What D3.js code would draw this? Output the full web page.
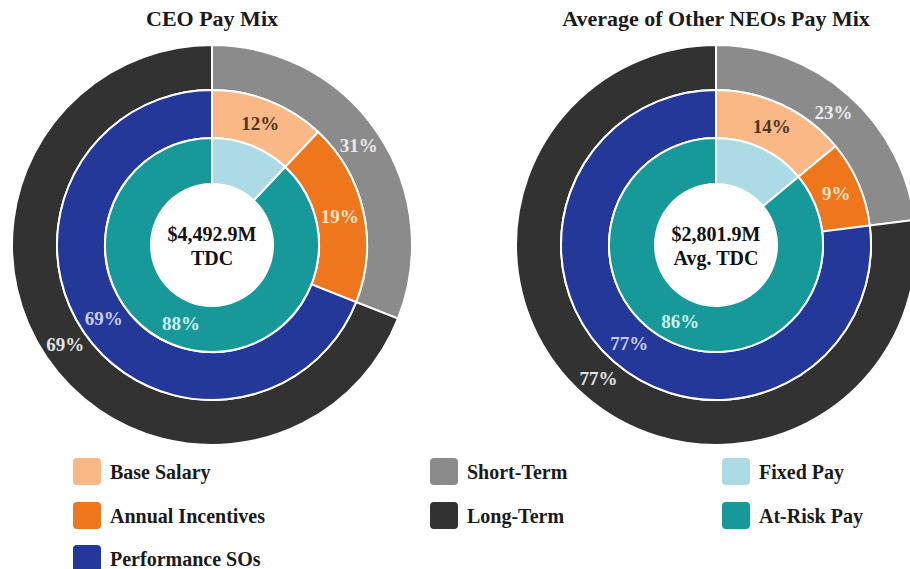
<!DOCTYPE html>
<html>
<head>
<meta charset="utf-8">
<script src="https://cdn.jsdelivr.net/npm/d3@7"></script>
<style>
  body { margin: 0; background: #fff; }
  svg text { font-family: "Liberation Serif", "DejaVu Serif", serif; font-weight: bold; }
</style>
</head>
<body>
<svg id="chart" width="910" height="569"></svg>
<script>
// Chart values.
var chartTitles = ["CEO Pay Mix", "Average of Other NEOs Pay Mix"];
var centerAmounts = ["$4,492.9M", "$2,801.9M"];
var centerCaptions = ["TDC", "Avg. TDC"];

var termCategories = ["Short-Term", "Long-Term"];
var termValues = [[31, 69], [23, 77]];

var componentCategories = ["Base Salary", "Annual Incentives", "Performance SOs"];
var componentValues = [[12, 19, 69], [14, 9, 77]];

var riskCategories = ["Fixed Pay", "At-Risk Pay"];
var riskValues = [[12, 88], [14, 86]];

// Colours per category and colour of the percent label drawn on it.
var fillColor = {
    "Base Salary": "#f9b886",
    "Annual Incentives": "#ee771d",
    "Performance SOs": "#24389a",
    "Short-Term": "#8b8b8b",
    "Long-Term": "#323232",
    "Fixed Pay": "#acdbe6",
    "At-Risk Pay": "#17999a"
};
var labelColor = {
    "Base Salary": "#4e3520",
    "Annual Incentives": "#fde2c4",
    "Performance SOs": "#c9cef3",
    "Short-Term": "#ececec",
    "Long-Term": "#e4e4e4",
    "Fixed Pay": null,            // no label on this slice
    "At-Risk Pay": "#cdf2ee"
};

var svg = d3.select("#chart");
var centers = [[212, 245], [716, 245]];

// Rings: inner radius, outer radius, which data.
var rings = [
    { name: "risk", inner: 61, outer: 107, categories: riskCategories, values: riskValues },
    { name: "component", inner: 107, outer: 155, categories: componentCategories, values: componentValues },
    { name: "term", inner: 155, outer: 200, categories: termCategories, values: termValues }
];

var pie = d3.pie()
    .sort(null)
    .value(function (d) { return d.value; });

chartTitles.forEach(function (title, i) {
    var group = svg.append("g")
        .attr("transform", "translate(" + centers[i][0] + "," + centers[i][1] + ")");

    // Draw rings from the outside in, so white strokes sit cleanly.
    rings.slice().reverse().forEach(function (ring) {
        var data = ring.categories.map(function (c, k) {
            return { category: c, value: ring.values[i][k] };
        });
        var arc = d3.arc()
            .innerRadius(ring.inner)
            .outerRadius(ring.outer);

        group.append("g")
            .attr("class", "ring-" + ring.name)
            .selectAll("path")
            .data(pie(data))
            .enter()
            .append("path")
            .attr("d", arc)
            .attr("fill", function (d) { return fillColor[d.data.category]; })
            .attr("stroke", "#fff")
            .attr("stroke-width", 2);

        group.append("g")
            .selectAll("text")
            .data(pie(data).filter(function (d) { return labelColor[d.data.category]; }))
            .enter()
            .append("text")
            .attr("transform", function (d) {
                var c = arc.centroid(d);
                return "translate(" + c[0] + "," + c[1] + ")";
            })
            .attr("text-anchor", "middle")
            .attr("dy", "0.35em")
            .attr("font-size", 19)
            .attr("fill", function (d) { return labelColor[d.data.category]; })
            .text(function (d) { return d.data.value + "%"; });
    });

    // Centre text.
    group.append("text")
        .attr("text-anchor", "middle")
        .attr("y", -4)
        .attr("font-size", 20)
        .attr("fill", "#111")
        .text(centerAmounts[i]);
    group.append("text")
        .attr("text-anchor", "middle")
        .attr("y", 20)
        .attr("font-size", 20)
        .attr("fill", "#111")
        .text(centerCaptions[i]);

    // Title.
    svg.append("text")
        .attr("x", centers[i][0])
        .attr("y", 26)
        .attr("text-anchor", "middle")
        .attr("font-size", 22)
        .attr("fill", "#1a1a1a")
        .text(title);
});

// Legend in three columns.
var legendColumns = [componentCategories, termCategories, riskCategories];
var legendX = [73, 430, 722];
var legendY = [458, 502, 545];

legendColumns.forEach(function (column, ci) {
    var items = svg.append("g")
        .selectAll("g")
        .data(column)
        .enter()
        .append("g")
        .attr("transform", function (d, ri) {
            return "translate(" + legendX[ci] + "," + legendY[ri] + ")";
        });
    items.append("rect")
        .attr("width", 28)
        .attr("height", 27)
        .attr("rx", 4)
        .attr("fill", function (d) { return fillColor[d]; });
    items.append("text")
        .attr("x", 37)
        .attr("y", 21)
        .attr("font-size", 20)
        .attr("fill", "#1a1a1a")
        .text(function (d) { return d; });
});
</script>
</body>
</html>
